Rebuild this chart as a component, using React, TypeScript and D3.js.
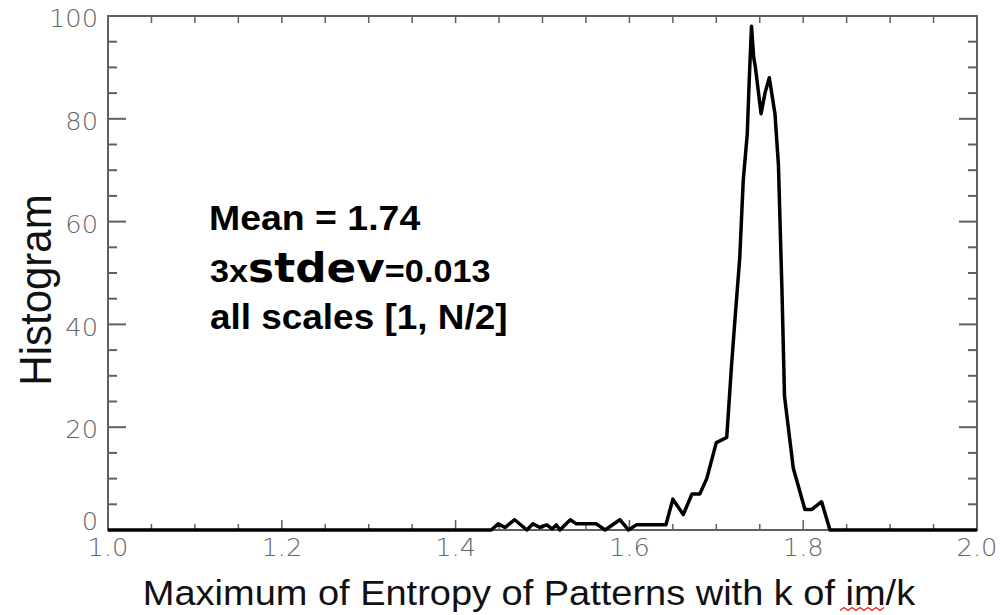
import React from "react";
import * as d3 from "d3";

// ---- data ----
const binX: number[] = [
  1.0, 1.441, 1.449, 1.457, 1.468, 1.482, 1.489, 1.497, 1.505, 1.511, 1.516, 1.52,
  1.532, 1.539, 1.562, 1.572, 1.589, 1.599, 1.608, 1.642, 1.65, 1.662, 1.672, 1.681,
  1.689, 1.7, 1.712, 1.7175, 1.7215, 1.727, 1.731, 1.7356, 1.738, 1.7405, 1.743,
  1.745, 1.7515, 1.756, 1.761, 1.7675, 1.7715, 1.7755, 1.7785, 1.7886, 1.802, 1.81,
  1.8212, 1.8308, 2.0,
];
const counts: number[] = [
  0, 0, 1.2, 0.5, 2, 0, 1.2, 0.5, 1, 0.2, 1, 0,
  2, 1.2, 1.2, 0, 2, 0, 1, 1, 6, 3, 7, 7,
  10, 17, 18, 32, 41, 53, 68, 77, 88, 98, 92,
  90, 81, 85, 88, 81, 71, 47, 26, 12, 4, 4,
  5.5, 0, 0,
];
const xTickLabels: string[] = ["1.0", "1.2", "1.4", "1.6", "1.8", "2.0"];
const xTickValues: number[] = [1.0, 1.2, 1.4, 1.6, 1.8, 2.0];
const yTickValues: number[] = [0, 20, 40, 60, 80, 100];
const xLabel = "Maximum of Entropy of Patterns with k of im/k";
const yLabel = "Histogram";
const annotLine1 = "Mean = 1.74";
const annotLine2a = "3x";
const annotLine2b = "stdev";
const annotLine2c = "=0.013";
const annotLine3 = "all scales [1, N/2]";

const W = 1003;
const H = 615;
const SX = 1.07; // horizontal stretch of the source image

const x = d3.scaleLinear().domain([1, 2]).range([108, 977]);
const y = d3.scaleLinear().domain([0, 100]).range([530, 16]);

function ST(props: {
  x: number;
  y: number;
  anchor?: string;
  size: number;
  family?: string;
  weight?: string | number;
  fill?: string;
  baseline?: string;
  rotate?: number;
  children: React.ReactNode;
}) {
  const t = props.rotate
    ? `translate(${props.x},${props.y}) rotate(${props.rotate}) scale(1,${SX})`
    : `translate(${props.x},${props.y}) scale(${SX},1)`;
  return (
    <text
      transform={t}
      textAnchor={props.anchor || "start"}
      fontSize={props.size}
      fontFamily={props.family || "'Liberation Sans', Arial, sans-serif"}
      fontWeight={props.weight || "normal"}
      fill={props.fill || "#000"}
      dominantBaseline={props.baseline || "alphabetic"}
    >
      {props.children}
    </text>
  );
}

export default function App() {
  const pts = binX.map((v, i) => [v, counts[i]] as [number, number]);
  const line = d3
    .line<[number, number]>()
    .x((d) => x(d[0]))
    .y((d) => y(d[1]));

  const yMinor = d3.range(0, 101, 5);
  const xMinor = d3.range(0, 21).map((i) => 1 + i * 0.05);

  // red spell-check squiggle under "im"
  let sq = "";
  for (let i = 0; i <= 11; i++) {
    const px = 840 + i * 4;
    const py = 609 + (i % 2 === 0 ? 1.5 : -1.5);
    sq += (i === 0 ? "M" : "L") + px + "," + py;
  }

  const axisColor = "#606060";
  const tickFont = "'DejaVu Sans', Verdana, sans-serif";

  return (
    <svg
      width={W}
      height={H}
      style={{ position: "fixed", left: 0, top: 0, background: "#fff" }}
    >
      <rect x={0} y={0} width={W} height={H} fill="#fff" />
      {/* frame */}
      <rect
        x={x(1)}
        y={y(100)}
        width={x(2) - x(1)}
        height={y(0) - y(100)}
        fill="none"
        stroke={axisColor}
        strokeWidth={2}
      />
      {/* y ticks left & right */}
      {yMinor.map((v) => {
        const major = v % 20 === 0;
        const L = major ? 18 : 9;
        return (
          <g key={"yt" + v}>
            <line x1={x(1)} x2={x(1) + L} y1={y(v)} y2={y(v)} stroke={axisColor} strokeWidth={2} />
            <line x1={x(2)} x2={x(2) - L} y1={y(v)} y2={y(v)} stroke={axisColor} strokeWidth={2} />
          </g>
        );
      })}
      {/* x ticks bottom & top */}
      {xMinor.map((v, i) => {
        const major = i % 4 === 0;
        return (
          <g key={"xt" + i}>
            <line x1={x(v)} x2={x(v)} y1={y(0)} y2={y(0) - (major ? 10 : 6)} stroke={axisColor} strokeWidth={1.5} />
            <line x1={x(v)} x2={x(v)} y1={y(100)} y2={y(100) + 7} stroke={axisColor} strokeWidth={1.5} />
          </g>
        );
      })}
      {/* y tick labels */}
      {yTickValues.map((v) => (
        <ST
          key={"yl" + v}
          x={98}
          y={y(v) + (v === 0 ? -8 : 3)}
          anchor="end"
          size={24}
          family={tickFont}
          weight={200}
          fill="#666"
          baseline="central"
        >
          {String(v)}
        </ST>
      ))}
      {/* x tick labels */}
      {xTickValues.map((v, i) => (
        <ST
          key={"xl" + i}
          x={x(v)}
          y={556}
          anchor="middle"
          size={24}
          family={tickFont}
          weight={200}
          fill="#666"
        >
          {xTickLabels[i]}
        </ST>
      ))}
      {/* data line */}
      <path
        d={line(pts) || ""}
        fill="none"
        stroke="#000"
        strokeWidth={3.5}
        strokeLinejoin="round"
      />
      {/* annotation */}
      <ST x={209} y={230} size={35} weight="bold">
        {annotLine1}
      </ST>
      <text
        transform={`translate(210,282) scale(${SX},1)`}
        fontFamily="'Liberation Sans', Arial, sans-serif"
        fontWeight="bold"
        fill="#000"
      >
        <tspan fontSize={32}>{annotLine2a}</tspan>
        <tspan fontSize={41} fontFamily="'DejaVu Sans', Verdana, sans-serif">
          {annotLine2b}
        </tspan>
        <tspan fontSize={32}>{annotLine2c}</tspan>
      </text>
      <ST x={210} y={329} size={34.5} weight="bold">
        {annotLine3}
      </ST>
      {/* axis titles */}
      <ST x={529} y={605} anchor="middle" size={35.5} fill="#111">
        {xLabel}
      </ST>
      <path d={sq} fill="none" stroke="#e02020" strokeWidth={1.2} />
      <ST x={51} y={290} anchor="middle" size={42} fill="#111" rotate={-90}>
        {yLabel}
      </ST>
    </svg>
  );
}
